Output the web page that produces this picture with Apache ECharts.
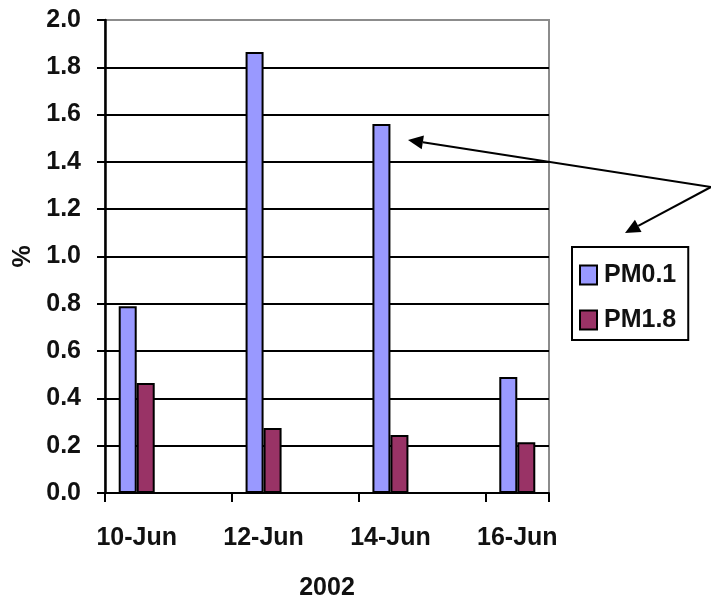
<!DOCTYPE html>
<html>
<head>
<meta charset="utf-8">
<script src="https://cdn.jsdelivr.net/npm/echarts@6/dist/echarts.min.js"></script>
<style>
  html, body { margin: 0; padding: 0; background: #fff; }
  #chart { width: 711px; height: 605px; }
</style>
</head>
<body>
<div id="chart"></div>
<script>
// ---- data ----
const categories = ['10-Jun', '11-Jun', '12-Jun', '13-Jun', '14-Jun', '15-Jun', '16-Jun'];
const pm01 = [0.79, null, 1.865, null, 1.56, null, 0.49];
const pm18 = [0.465, null, 0.275, null, 0.245, null, 0.215];
const seriesNames = ['PM0.1', 'PM1.8'];
const yTicks = [0, 0.2, 0.4, 0.6, 0.8, 1.0, 1.2, 1.4, 1.6, 1.8, 2.0];
const xTitle = '2002';
const yTitle = '%';

const FONT = "'Liberation Sans', Arial, sans-serif";
const FS = 25;
const chart = echarts.init(document.getElementById('chart'), null, { renderer: 'canvas' });

function arrow(x1, y1, x2, y2) {
  const dx = x2 - x1, dy = y2 - y1;
  const len = Math.sqrt(dx * dx + dy * dy);
  const ux = dx / len, uy = dy / len;
  const hl = 15, hw = 7;
  const bx = x2 - ux * hl, by = y2 - uy * hl;
  return [
    { type: 'line', shape: { x1: x1, y1: y1, x2: bx, y2: by }, style: { stroke: '#000', lineWidth: 2 }, z: 100 },
    { type: 'polygon', shape: { points: [[x2, y2], [bx - uy * hw, by + ux * hw], [bx + uy * hw, by - ux * hw]] }, style: { fill: '#000' }, z: 100 }
  ];
}

const splitColors = yTicks.map((v, i) => i === yTicks.length - 1 ? '#8c8c8c' : '#000');

const option = {
  animation: false,
  backgroundColor: '#fff',
  grid: {
    left: 105, right: 162, top: 20, bottom: 112,
    outerBoundsMode: 'none',
    show: true, borderColor: '#8c8c8c', borderWidth: 2, backgroundColor: 'transparent'
  },
  legend: {
    orient: 'vertical',
    left: 572, top: 247,
    padding: [14, 12, 6, 7],
    borderColor: '#000', borderWidth: 2,
    itemWidth: 17, itemHeight: 19, itemGap: 17,
    icon: 'rect',
    textStyle: { fontFamily: FONT, fontWeight: 'bold', fontSize: FS, color: '#111', lineHeight: 28, padding: [0, 0, 0, 2] },
    data: seriesNames
  },
  xAxis: {
    type: 'category',
    data: categories,
    boundaryGap: true,
    name: xTitle,
    nameLocation: 'middle',
    nameGap: 83,
    nameTextStyle: { fontFamily: FONT, fontWeight: 'bold', fontSize: FS, color: '#111' },
    axisLine: { lineStyle: { color: '#000', width: 2 } },
    axisTick: { show: true, interval: 1, length: 9, lineStyle: { color: '#000', width: 2 } },
    axisLabel: { interval: 1, margin: 33, fontFamily: FONT, fontWeight: 'bold', fontSize: FS, color: '#111' },
    splitLine: { show: false }
  },
  yAxis: {
    type: 'value',
    min: 0, max: 2.0, interval: 0.2,
    name: yTitle,
    nameLocation: 'middle',
    nameGap: 62,
    nameRotate: 90,
    nameTextStyle: { fontFamily: FONT, fontWeight: 'bold', fontSize: FS, color: '#111' },
    axisLine: { show: true, lineStyle: { color: '#000', width: 2.5 } },
    axisTick: { show: true, length: 8, lineStyle: { color: '#000', width: 2 } },
    axisLabel: { margin: 24, fontFamily: FONT, fontWeight: 'bold', fontSize: FS, color: '#111',
      formatter: v => v.toFixed(1) },
    splitLine: { show: true, lineStyle: { color: splitColors, width: 2 } }
  },
  series: [
    {
      name: seriesNames[0], type: 'bar', data: pm01,
      barWidth: 18, barGap: '0%',
      itemStyle: { color: '#9999ff', borderColor: '#000', borderWidth: 2 }
    },
    {
      name: seriesNames[1], type: 'bar', data: pm18,
      barWidth: 18, barGap: '0%',
      itemStyle: { color: '#993366', borderColor: '#000', borderWidth: 2 }
    }
  ],
  graphic: [].concat(arrow(711, 187, 408, 140), arrow(711, 187, 625, 233))
};
chart.setOption(option);
</script>
</body>
</html>
